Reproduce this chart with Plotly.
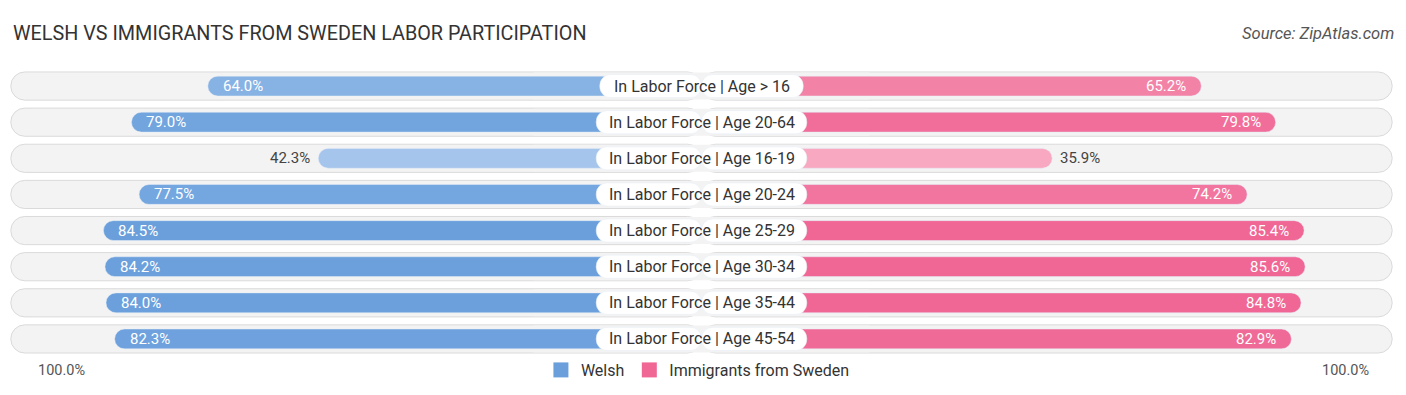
import plotly.graph_objects as go

categories = [
    "In Labor Force | Age > 16",
    "In Labor Force | Age 20-64",
    "In Labor Force | Age 16-19",
    "In Labor Force | Age 20-24",
    "In Labor Force | Age 25-29",
    "In Labor Force | Age 30-34",
    "In Labor Force | Age 35-44",
    "In Labor Force | Age 45-54",
]
welsh = [64.0, 79.0, 42.3, 77.5, 84.5, 84.2, 84.0, 82.3]
sweden = [65.2, 79.8, 35.9, 74.2, 85.4, 85.6, 84.8, 82.9]
series_names = ["Welsh", "Immigrants from Sweden"]
axis_label = "100.0%"

# The page body adds an 8px margin, so the figure is drawn 8px smaller.
W, H = 1398, 387
CENTER_PX = 693.5
GAP = 33.0          # half-width of central label area, in axis units
PX_PER_UNIT = 5.09
FONT = "Roboto"


def mix(c1, c2, t):
    t = max(0.0, min(1.0, t))
    return "rgb(%d,%d,%d)" % tuple(round(a + (b - a) * t) for a, b in zip(c1, c2))


BLUE_LIGHT, BLUE_DARK = (176, 204, 239), (106, 159, 220)
PINK_LIGHT, PINK_DARK = (248, 170, 194), (240, 103, 149)


def shade(v, light, dark):
    return mix(light, dark, (v - 35.0) / 50.0)


welsh_colors = [shade(v, BLUE_LIGHT, BLUE_DARK) for v in welsh]
sweden_colors = [shade(v, PINK_LIGHT, PINK_DARK) for v in sweden]

n = len(categories)
track_half = 100 + GAP + 2.7
TRACK = "#f3f3f3"

fig = go.Figure()

# background tracks (two halves, rounded at outer ends)
for sign in (-1, 1):
    fig.add_trace(go.Bar(
        y=categories, x=[sign * track_half] * n, base=0, orientation="h",
        width=0.78, marker=dict(color=TRACK, line=dict(color="#dadada", width=1),
                                cornerradius=14),
        showlegend=False, hoverinfo="skip"))
# filler hiding the seam between the two track halves
fig.add_trace(go.Bar(
    y=categories, x=[2 * GAP] * n, base=-GAP, orientation="h",
    width=0.75, marker=dict(color=TRACK, line=dict(width=0)),
    showlegend=False, hoverinfo="skip"))

# data bars
fig.add_trace(go.Bar(
    y=categories, x=[-(v + GAP) for v in welsh], base=0, orientation="h",
    width=0.55, marker=dict(color=welsh_colors, cornerradius=10),
    showlegend=False, name=series_names[0]))
fig.add_trace(go.Bar(
    y=categories, x=[v + GAP for v in sweden], base=0, orientation="h",
    width=0.55, marker=dict(color=sweden_colors, cornerradius=10),
    showlegend=False, name=series_names[1]))

# label pills (white), width derived from label length
pill_half = [(len(c) * 7.1 + 26) / 2 / PX_PER_UNIT for c in categories]
for sign in (-1, 1):
    fig.add_trace(go.Bar(
        y=categories, x=[sign * h for h in pill_half], base=0, orientation="h",
        width=0.64, marker=dict(color="#ffffff", cornerradius=11),
        showlegend=False, hoverinfo="skip"))

# legend entries
fig.add_trace(go.Scatter(x=[None], y=[None], mode="markers",
                         marker=dict(color="rgb(106,159,220)", symbol="square", size=15),
                         name=series_names[0], showlegend=True, hoverinfo="skip"))
fig.add_trace(go.Scatter(x=[None], y=[None], mode="markers",
                         marker=dict(color="rgb(240,103,149)", symbol="square", size=15),
                         name=series_names[1], showlegend=True, hoverinfo="skip"))

annotations = []
for c, v in zip(categories, welsh):
    inside = v >= 50
    annotations.append(dict(
        x=-(v + GAP), y=c, xref="x", yref="y", text=f"{v:.1f}%", showarrow=False,
        xanchor="left" if inside else "right", xshift=13 if inside else -6,
        font=dict(family=FONT, size=15, color="#ffffff" if inside else "#444444")))
for c, v in zip(categories, sweden):
    inside = v >= 50
    annotations.append(dict(
        x=v + GAP, y=c, xref="x", yref="y", text=f"{v:.1f}%", showarrow=False,
        xanchor="right" if inside else "left", xshift=-13 if inside else 6,
        font=dict(family=FONT, size=15, color="#ffffff" if inside else "#444444")))
for c in categories:
    annotations.append(dict(
        x=0, y=c, xref="x", yref="y", text=c, showarrow=False, xanchor="center",
        font=dict(family=FONT, size=16, color="#333333")))

annotations.append(dict(x=-(100 + GAP), y=-0.045, xref="x", yref="paper", text=axis_label,
                        showarrow=False, xanchor="left", yanchor="middle", xshift=11,
                        font=dict(family=FONT, size=14.5, color="#555555")))
annotations.append(dict(x=100 + GAP, y=-0.045, xref="x", yref="paper", text=axis_label,
                        showarrow=False, xanchor="right", yanchor="middle", xshift=-7,
                        font=dict(family=FONT, size=14.5, color="#555555")))
annotations.append(dict(x=1, y=1.121, xref="paper", yref="paper", text="Source: ZipAtlas.com",
                        showarrow=False, xanchor="right", yanchor="middle", xshift=-10,
                        font=dict(family=FONT, size=16.5, color="#555555", style="italic")))

x_left = -CENTER_PX / PX_PER_UNIT
x_right = (W - CENTER_PX) / PX_PER_UNIT

fig.update_layout(
    width=W, height=H,
    margin=dict(l=0, r=0, t=60, b=38),
    paper_bgcolor="#ffffff", plot_bgcolor="#ffffff",
    barmode="overlay",
    title=dict(text="WELSH VS IMMIGRANTS FROM SWEDEN LABOR PARTICIPATION",
               x=5 / W, xanchor="left", y=1 - 25 / H, yanchor="middle",
               font=dict(family=FONT, size=19.8, color="#333333")),
    xaxis=dict(range=[x_left, x_right], showticklabels=False, zeroline=False,
               showgrid=False, fixedrange=True),
    yaxis=dict(categoryorder="array", categoryarray=categories,
               showticklabels=False, showgrid=False, zeroline=False,
               range=[n - 0.5, -0.5], fixedrange=True),
    legend=dict(orientation="h", x=0.4935, xanchor="center", y=-0.045, yanchor="middle",
                font=dict(family=FONT, size=16, color="#333333"),
                bgcolor="rgba(0,0,0,0)", itemwidth=30, traceorder="normal"),
    annotations=annotations,
    showlegend=True,
)

fig.write_html("out.html")
